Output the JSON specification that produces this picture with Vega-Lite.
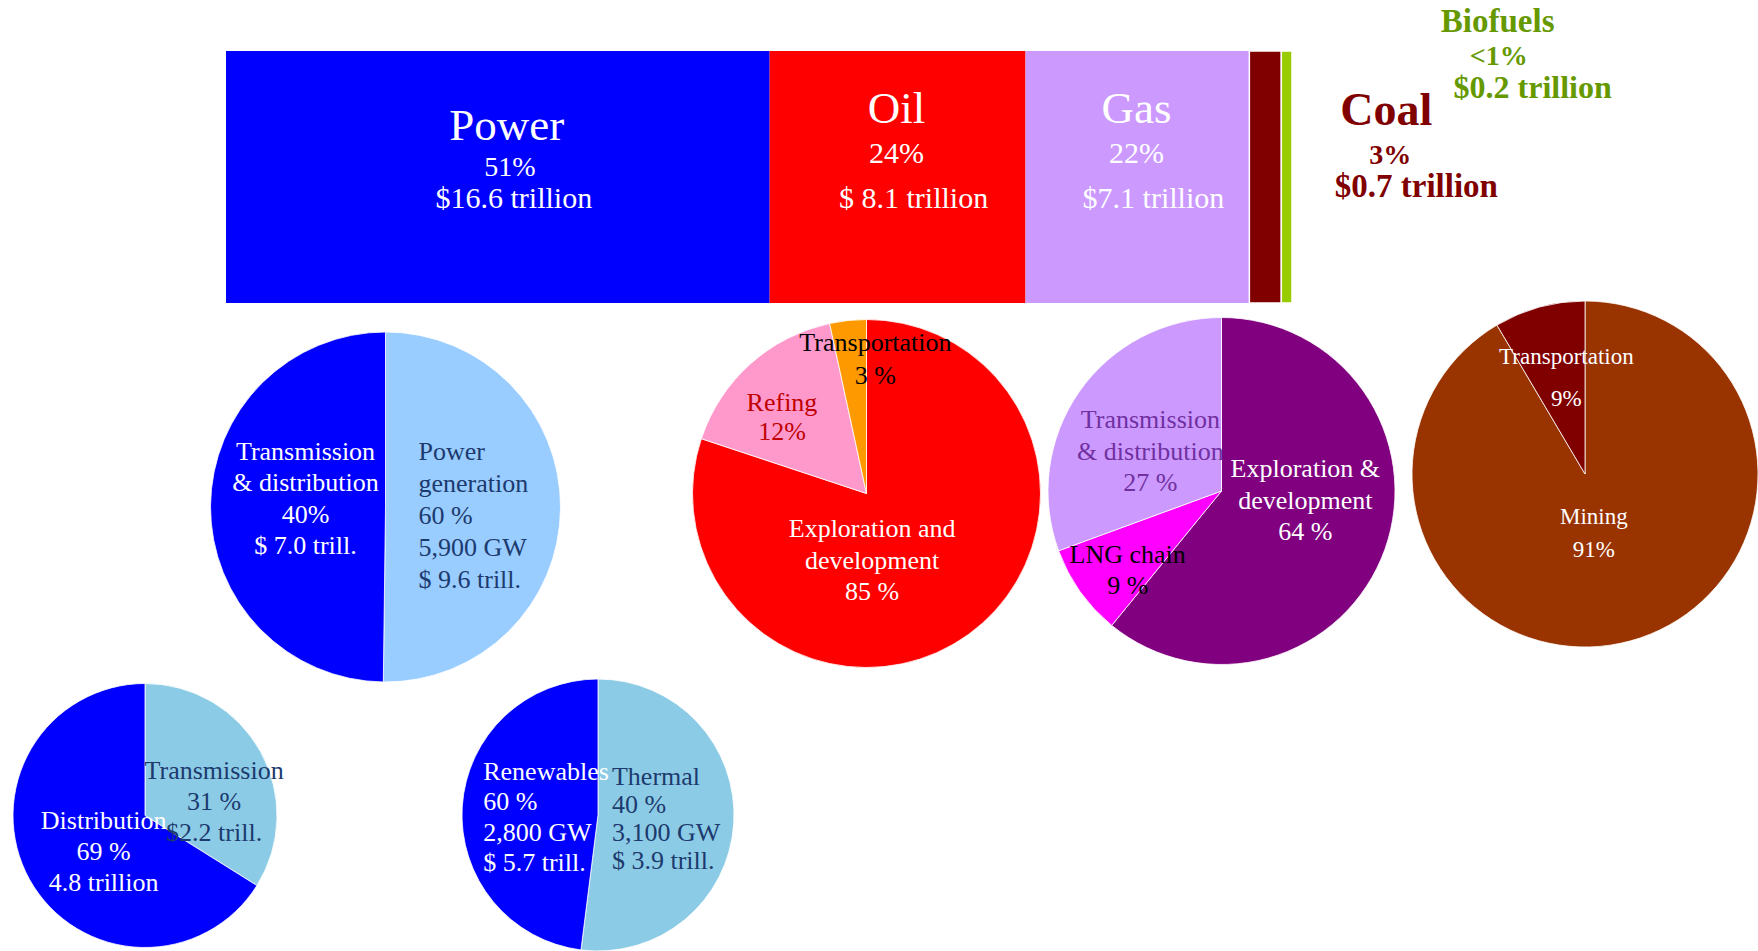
{
  "$schema": "https://vega.github.io/schema/vega-lite/v6.json",
  "padding": 0,
  "background": "white",
  "spacing": 265,
  "bounds": "flush",
  "resolve": {"scale": {"color": "independent", "theta": "independent", "x": "independent", "y": "independent"}},
  "datasets": {
    "sectors": [
      {"group": "Global energy investment", "sector": "Power", "k": 1, "pct": 51, "title": "Power", "share": "51%", "amount": "$16.6 trillion"},
      {"group": "Global energy investment", "sector": "Oil", "k": 2, "pct": 24, "title": "Oil", "share": "24%", "amount": "$ 8.1 trillion"},
      {"group": "Global energy investment", "sector": "Gas", "k": 3, "pct": 21, "title": "Gas", "share": "22%", "amount": "$7.1 trillion"},
      {"group": "Global energy investment", "sector": "Coal", "k": 4, "pct": 3, "title": "Coal", "share": "3%", "amount": "$0.7 trillion"},
      {"group": "Global energy investment", "sector": "Biofuels", "k": 5, "pct": 1, "title": "Biofuels", "share": "<1%", "amount": "$0.2 trillion"}
    ],
    "slices": [
      {"pie": "Power", "part": "Power generation", "k": 1, "share": 50.2, "label": "Power\ngeneration\n60 %\n5,900 GW\n$ 9.6 trill."},
      {"pie": "Power", "part": "Transmission & distribution", "k": 2, "share": 49.8, "label": "Transmission\n& distribution\n40%\n$ 7.0 trill."},
      {"pie": "Oil", "part": "Exploration and development", "k": 1, "share": 80.1, "label": "Exploration and\ndevelopment\n85  %"},
      {"pie": "Oil", "part": "Refining", "k": 2, "share": 16.5, "label": "Refing\n12%"},
      {"pie": "Oil", "part": "Transportation", "k": 3, "share": 3.4, "label": "Transportation\n3 %"},
      {"pie": "Gas", "part": "Exploration & development", "k": 1, "share": 60.9, "label": "Exploration &\ndevelopment\n64 %"},
      {"pie": "Gas", "part": "LNG chain", "k": 2, "share": 8.5, "label": "LNG  chain\n9 %"},
      {"pie": "Gas", "part": "Transmission & distribution", "k": 3, "share": 30.6, "label": "Transmission\n& distribution\n27  %"},
      {"pie": "Coal", "part": "Mining", "k": 1, "share": 91.5, "label": "Mining\n91%"},
      {"pie": "Coal", "part": "Transportation", "k": 2, "share": 8.5, "label": "Transportation\n9%"},
      {"pie": "Transmission & distribution", "part": "Transmission", "k": 1, "share": 33.9, "label": "Transmission\n31 %\n$2.2 trill."},
      {"pie": "Transmission & distribution", "part": "Distribution", "k": 2, "share": 66.1, "label": "Distribution\n69 %\n4.8 trillion"},
      {"pie": "Power generation", "part": "Thermal", "k": 1, "share": 52.0, "label": "Thermal\n40 %\n3,100 GW\n$ 3.9 trill."},
      {"pie": "Power generation", "part": "Renewables", "k": 2, "share": 48.0, "label": "Renewables\n60 %\n2,800 GW\n$ 5.7 trill."}
    ]
  },
  "vconcat": [
    {
      "width": 1758,
      "height": 150,
      "data": {"name": "sectors"},
      "layer": [
        {
          "mark": {"type": "bar", "stroke": "white"},
          "encoding": {
            "x": {"field": "pct", "type": "quantitative", "stack": "zero", "scale": {"domain": [0, 100], "range": [226, 1292], "nice": false}, "axis": null},
            "y": {"field": "group", "type": "nominal", "scale": {"paddingInner": 0, "paddingOuter": 0, "range": [51, 303]}, "axis": null},
            "color": {"field": "sector", "type": "nominal", "scale": {"domain": ["Power", "Oil", "Gas", "Coal", "Biofuels"], "range": ["#0000ff", "#ff0000", "#cc99ff", "#800000", "#99cc00"]}, "legend": null},
            "order": {"field": "k", "type": "quantitative"},
            "strokeWidth": {"condition": {"test": "datum.k >= 4", "value": 1.5}, "value": 0}
          }
        },
        {
          "mark": {"type": "text", "color": "white", "fontSize": 45, "dx": 9, "dy": 50.5},
          "encoding": {
            "x": {"field": "pct", "type": "quantitative", "stack": "zero", "bandPosition": 0.5, "axis": null},
            "detail": {"field": "sector", "type": "nominal"},
            "order": {"field": "k", "type": "quantitative"},
            "text": {"condition": {"test": "datum.sector === 'Power'", "field": "title", "type": "nominal"}, "value": ""}
          }
        },
        {
          "mark": {"type": "text", "color": "white", "fontSize": 45, "dx": -1, "dy": 33.5},
          "encoding": {
            "x": {"field": "pct", "type": "quantitative", "stack": "zero", "bandPosition": 0.5, "axis": null},
            "detail": {"field": "sector", "type": "nominal"},
            "order": {"field": "k", "type": "quantitative"},
            "text": {"condition": {"test": "datum.sector === 'Oil' || datum.sector === 'Gas'", "field": "title", "type": "nominal"}, "value": ""}
          }
        },
        {
          "mark": {"type": "text", "color": "white", "fontSize": 28, "dx": 12, "dy": 93},
          "encoding": {
            "x": {"field": "pct", "type": "quantitative", "stack": "zero", "bandPosition": 0.5, "axis": null},
            "detail": {"field": "sector", "type": "nominal"},
            "order": {"field": "k", "type": "quantitative"},
            "text": {"condition": {"test": "datum.sector === 'Power'", "field": "share", "type": "nominal"}, "value": ""}
          }
        },
        {
          "mark": {"type": "text", "color": "white", "fontSize": 30, "dx": -1, "dy": 78.5},
          "encoding": {
            "x": {"field": "pct", "type": "quantitative", "stack": "zero", "bandPosition": 0.5, "axis": null},
            "detail": {"field": "sector", "type": "nominal"},
            "order": {"field": "k", "type": "quantitative"},
            "text": {"condition": {"test": "datum.sector === 'Oil' || datum.sector === 'Gas'", "field": "share", "type": "nominal"}, "value": ""}
          }
        },
        {
          "mark": {"type": "text", "color": "white", "fontSize": 30, "dx": 16, "dy": 123.5},
          "encoding": {
            "x": {"field": "pct", "type": "quantitative", "stack": "zero", "bandPosition": 0.5, "axis": null},
            "detail": {"field": "sector", "type": "nominal"},
            "order": {"field": "k", "type": "quantitative"},
            "text": {"condition": {"test": "datum.k <= 3", "field": "amount", "type": "nominal"}, "value": ""}
          }
        },
        {
          "mark": {"type": "text", "color": "#800000", "fontSize": 46, "fontWeight": "bold", "dx": 121, "dy": 35.5},
          "encoding": {
            "x": {"field": "pct", "type": "quantitative", "stack": "zero", "bandPosition": 0.5, "axis": null},
            "detail": {"field": "sector", "type": "nominal"},
            "order": {"field": "k", "type": "quantitative"},
            "text": {"condition": {"test": "datum.sector === 'Coal'", "field": "title", "type": "nominal"}, "value": ""}
          }
        },
        {
          "mark": {"type": "text", "color": "#800000", "fontSize": 28, "fontWeight": "bold", "dx": 125, "dy": 80.5},
          "encoding": {
            "x": {"field": "pct", "type": "quantitative", "stack": "zero", "bandPosition": 0.5, "axis": null},
            "detail": {"field": "sector", "type": "nominal"},
            "order": {"field": "k", "type": "quantitative"},
            "text": {"condition": {"test": "datum.sector === 'Coal'", "field": "share", "type": "nominal"}, "value": ""}
          }
        },
        {
          "mark": {"type": "text", "color": "#800000", "fontSize": 33, "fontWeight": "bold", "dx": 151, "dy": 112},
          "encoding": {
            "x": {"field": "pct", "type": "quantitative", "stack": "zero", "bandPosition": 0.5, "axis": null},
            "detail": {"field": "sector", "type": "nominal"},
            "order": {"field": "k", "type": "quantitative"},
            "text": {"condition": {"test": "datum.sector === 'Coal'", "field": "amount", "type": "nominal"}, "value": ""}
          }
        },
        {
          "mark": {"type": "text", "color": "#669900", "fontSize": 33, "fontWeight": "bold", "dx": 211, "dy": -53.5},
          "encoding": {
            "x": {"field": "pct", "type": "quantitative", "stack": "zero", "bandPosition": 0.5, "axis": null},
            "detail": {"field": "sector", "type": "nominal"},
            "order": {"field": "k", "type": "quantitative"},
            "text": {"condition": {"test": "datum.sector === 'Biofuels'", "field": "title", "type": "nominal"}, "value": ""}
          }
        },
        {
          "mark": {"type": "text", "color": "#669900", "fontSize": 28, "fontWeight": "bold", "dx": 212, "dy": -18.5},
          "encoding": {
            "x": {"field": "pct", "type": "quantitative", "stack": "zero", "bandPosition": 0.5, "axis": null},
            "detail": {"field": "sector", "type": "nominal"},
            "order": {"field": "k", "type": "quantitative"},
            "text": {"condition": {"test": "datum.sector === 'Biofuels'", "field": "share", "type": "nominal"}, "value": ""}
          }
        },
        {
          "mark": {"type": "text", "color": "#669900", "fontSize": 32, "fontWeight": "bold", "dx": 246, "dy": 12.5},
          "encoding": {
            "x": {"field": "pct", "type": "quantitative", "stack": "zero", "bandPosition": 0.5, "axis": null},
            "detail": {"field": "sector", "type": "nominal"},
            "order": {"field": "k", "type": "quantitative"},
            "text": {"condition": {"test": "datum.sector === 'Biofuels'", "field": "amount", "type": "nominal"}, "value": ""}
          }
        }
      ]
    },
    {
      "hconcat": [
        {
          "width": 771, "height": 184,
          "data": {"name": "slices"},
          "transform": [{"filter": "datum.pie === 'Power'"}],
          "layer": [
            {"mark": {"type": "arc", "outerRadius": 175, "stroke": "white", "strokeWidth": 0.8},
             "encoding": {"theta": {"field": "share", "type": "quantitative", "stack": true}, "order": {"field": "k", "type": "quantitative"},
               "color": {"field": "part", "type": "nominal", "scale": {"domain": ["Power generation", "Transmission & distribution"], "range": ["#99ccff", "#0000ff"]}, "legend": null}}},
            {"mark": {"type": "text", "radius": 80, "dx": 0, "dy": -54.75, "color": "white", "fontSize": 26, "lineHeight": 31.5, "lineBreak": "\n"},
             "encoding": {"theta": {"field": "share", "type": "quantitative", "stack": true}, "order": {"field": "k", "type": "quantitative"}, "detail": {"field": "part", "type": "nominal"},
               "text": {"condition": {"test": "datum.k === 2", "field": "label", "type": "nominal"}, "value": ""}}},
            {"mark": {"type": "text", "align": "left", "radius": 33, "dx": 0, "dy": -55.5, "color": "#1c3a6e", "fontSize": 26, "lineHeight": 32, "lineBreak": "\n"},
             "encoding": {"theta": {"field": "share", "type": "quantitative", "stack": true}, "order": {"field": "k", "type": "quantitative"}, "detail": {"field": "part", "type": "nominal"},
               "text": {"condition": {"test": "datum.k === 1", "field": "label", "type": "nominal"}, "value": ""}}}
          ]
        },
        {
          "width": 191, "height": 157,
          "data": {"name": "slices"},
          "transform": [{"filter": "datum.pie === 'Oil'"}],
          "layer": [
            {"mark": {"type": "arc", "outerRadius": 174, "stroke": "white", "strokeWidth": 0.8},
             "encoding": {"theta": {"field": "share", "type": "quantitative", "stack": true}, "order": {"field": "k", "type": "quantitative"},
               "color": {"field": "part", "type": "nominal", "scale": {"domain": ["Exploration and development", "Refining", "Transportation"], "range": ["#ff0000", "#ff99cc", "#ff9900"]}, "legend": null}}},
            {"mark": {"type": "text", "radius": 57.5, "dx": -28, "dy": -10.8, "color": "white", "fontSize": 26, "lineHeight": 31.2, "lineBreak": "\n"},
             "encoding": {"theta": {"field": "share", "type": "quantitative", "stack": true}, "order": {"field": "k", "type": "quantitative"}, "detail": {"field": "part", "type": "nominal"},
               "text": {"condition": {"test": "datum.k === 1", "field": "label", "type": "nominal"}, "value": ""}}},
            {"mark": {"type": "text", "radius": 113, "dx": -9, "dy": -6.2, "color": "#c00000", "fontSize": 26, "lineHeight": 28.4, "lineBreak": "\n"},
             "encoding": {"theta": {"field": "share", "type": "quantitative", "stack": true}, "order": {"field": "k", "type": "quantitative"}, "detail": {"field": "part", "type": "nominal"},
               "text": {"condition": {"test": "datum.k === 2", "field": "label", "type": "nominal"}, "value": ""}}},
            {"mark": {"type": "text", "radius": 132, "dx": 23, "dy": -19.35, "color": "black", "fontSize": 26, "lineHeight": 32.7, "lineBreak": "\n"},
             "encoding": {"theta": {"field": "share", "type": "quantitative", "stack": true}, "order": {"field": "k", "type": "quantitative"}, "detail": {"field": "part", "type": "nominal"},
               "text": {"condition": {"test": "datum.k === 3", "field": "label", "type": "nominal"}, "value": ""}}}
          ]
        },
        {
          "width": 519, "height": 152,
          "data": {"name": "slices"},
          "transform": [{"filter": "datum.pie === 'Gas'"}],
          "layer": [
            {"mark": {"type": "arc", "outerRadius": 173.5, "stroke": "white", "strokeWidth": 0.8},
             "encoding": {"theta": {"field": "share", "type": "quantitative", "stack": true}, "order": {"field": "k", "type": "quantitative"},
               "color": {"field": "part", "type": "nominal", "scale": {"domain": ["Exploration & development", "LNG chain", "Transmission & distribution"], "range": ["#800080", "#ff00ff", "#cc99ff"]}, "legend": null}}},
            {"mark": {"type": "text", "radius": 82, "dx": 6.6, "dy": -49.3, "color": "white", "fontSize": 26, "lineHeight": 31.5, "lineBreak": "\n"},
             "encoding": {"theta": {"field": "share", "type": "quantitative", "stack": true}, "order": {"field": "k", "type": "quantitative"}, "detail": {"field": "part", "type": "nominal"},
               "text": {"condition": {"test": "datum.k === 1", "field": "label", "type": "nominal"}, "value": ""}}},
            {"mark": {"type": "text", "radius": 122, "dx": 5.6, "dy": -6.75, "color": "black", "fontSize": 26, "lineHeight": 30.7, "lineBreak": "\n"},
             "encoding": {"theta": {"field": "share", "type": "quantitative", "stack": true}, "order": {"field": "k", "type": "quantitative"}, "detail": {"field": "part", "type": "nominal"},
               "text": {"condition": {"test": "datum.k === 2", "field": "label", "type": "nominal"}, "value": ""}}},
            {"mark": {"type": "text", "radius": 81, "dx": -4.7, "dy": -24.7, "color": "#7030a0", "fontSize": 26, "lineHeight": 31.7, "lineBreak": "\n"},
             "encoding": {"theta": {"field": "share", "type": "quantitative", "stack": true}, "order": {"field": "k", "type": "quantitative"}, "detail": {"field": "part", "type": "nominal"},
               "text": {"condition": {"test": "datum.k === 3", "field": "label", "type": "nominal"}, "value": ""}}}
          ]
        },
        {
          "width": 208, "height": 118,
          "data": {"name": "slices"},
          "transform": [{"filter": "datum.pie === 'Coal'"}],
          "layer": [
            {"mark": {"type": "arc", "outerRadius": 173, "stroke": "white", "strokeWidth": 0.8},
             "encoding": {"theta": {"field": "share", "type": "quantitative", "stack": true}, "order": {"field": "k", "type": "quantitative"},
               "color": {"field": "part", "type": "nominal", "scale": {"domain": ["Mining", "Transportation"], "range": ["#993300", "#800000"]}, "legend": null}}},
            {"mark": {"type": "text", "radius": 60, "dx": -7, "dy": -14.5, "color": "white", "fontSize": 23, "lineHeight": 33, "lineBreak": "\n"},
             "encoding": {"theta": {"field": "share", "type": "quantitative", "stack": true}, "order": {"field": "k", "type": "quantitative"}, "detail": {"field": "part", "type": "nominal"},
               "text": {"condition": {"test": "datum.k === 1", "field": "label", "type": "nominal"}, "value": ""}}},
            {"mark": {"type": "text", "radius": 97, "dx": 7, "dy": -23, "color": "white", "fontSize": 23, "lineHeight": 42, "lineBreak": "\n"},
             "encoding": {"theta": {"field": "share", "type": "quantitative", "stack": true}, "order": {"field": "k", "type": "quantitative"}, "detail": {"field": "part", "type": "nominal"},
               "text": {"condition": {"test": "datum.k === 2", "field": "label", "type": "nominal"}, "value": ""}}}
          ]
        }
      ],
      "spacing": 0,
      "bounds": "flush",
      "resolve": {"scale": {"color": "independent", "theta": "independent"}}
    },
    {
      "hconcat": [
        {
          "width": 290, "height": 271,
          "data": {"name": "slices"},
          "transform": [{"filter": "datum.pie === 'Transmission & distribution'"}],
          "layer": [
            {"mark": {"type": "arc", "outerRadius": 132, "stroke": "white", "strokeWidth": 0.8},
             "encoding": {"theta": {"field": "share", "type": "quantitative", "stack": true}, "order": {"field": "k", "type": "quantitative"},
               "color": {"field": "part", "type": "nominal", "scale": {"domain": ["Transmission", "Distribution"], "range": ["#8ccbe5", "#0000ff"]}, "legend": null}}},
            {"mark": {"type": "text", "radius": 63, "dx": 14, "dy": -13.5, "color": "#1c3a6e", "fontSize": 26, "lineHeight": 31, "lineBreak": "\n"},
             "encoding": {"theta": {"field": "share", "type": "quantitative", "stack": true}, "order": {"field": "k", "type": "quantitative"}, "detail": {"field": "part", "type": "nominal"},
               "text": {"condition": {"test": "datum.k === 1", "field": "label", "type": "nominal"}, "value": ""}}},
            {"mark": {"type": "text", "radius": 53, "dx": 5, "dy": -20.5, "color": "white", "fontSize": 26, "lineHeight": 31, "lineBreak": "\n"},
             "encoding": {"theta": {"field": "share", "type": "quantitative", "stack": true}, "order": {"field": "k", "type": "quantitative"}, "detail": {"field": "part", "type": "nominal"},
               "text": {"condition": {"test": "datum.k === 2", "field": "label", "type": "nominal"}, "value": ""}}}
          ]
        },
        {
          "width": 616, "height": 270,
          "data": {"name": "slices"},
          "transform": [{"filter": "datum.pie === 'Power generation'"}],
          "layer": [
            {"mark": {"type": "arc", "outerRadius": 136, "stroke": "white", "strokeWidth": 0.8},
             "encoding": {"theta": {"field": "share", "type": "quantitative", "stack": true}, "order": {"field": "k", "type": "quantitative"},
               "color": {"field": "part", "type": "nominal", "scale": {"domain": ["Thermal", "Renewables"], "range": ["#8ccbe5", "#0000ff"]}, "legend": null}}},
            {"mark": {"type": "text", "align": "left", "radius": 14, "dx": 0, "dy": -38.6, "color": "#1c3a6e", "fontSize": 26, "lineHeight": 28, "lineBreak": "\n"},
             "encoding": {"theta": {"field": "share", "type": "quantitative", "stack": true}, "order": {"field": "k", "type": "quantitative"}, "detail": {"field": "part", "type": "nominal"},
               "text": {"condition": {"test": "datum.k === 1", "field": "label", "type": "nominal"}, "value": ""}}},
            {"mark": {"type": "text", "align": "left", "radius": 115, "dx": 0, "dy": -36.1, "color": "white", "fontSize": 26, "lineHeight": 30.5, "lineBreak": "\n"},
             "encoding": {"theta": {"field": "share", "type": "quantitative", "stack": true}, "order": {"field": "k", "type": "quantitative"}, "detail": {"field": "part", "type": "nominal"},
               "text": {"condition": {"test": "datum.k === 2", "field": "label", "type": "nominal"}, "value": ""}}}
          ]
        }
      ],
      "spacing": 0,
      "bounds": "flush",
      "resolve": {"scale": {"color": "independent", "theta": "independent"}}
    }
  ],
  "config": {
    "font": "Liberation Serif",
    "view": {"stroke": null},
    "text": {"font": "Liberation Serif", "align": "center", "baseline": "middle"}
  }
}
